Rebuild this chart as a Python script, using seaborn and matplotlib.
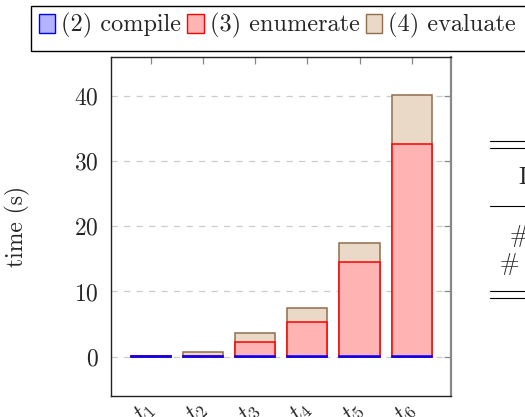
import matplotlib
matplotlib.use("Agg")
import matplotlib.pyplot as plt
from matplotlib.patches import Patch, Rectangle
from matplotlib.lines import Line2D
import seaborn as sns
import pandas as pd

# values (seconds)
tasks = ["$t_1$", "$t_2$", "$t_3$", "$t_4$", "$t_5$", "$t_6$"]
compile_t = [0.05, 0.05, 0.05, 0.05, 0.05, 0.05]
enumerate_t = [0.0, 0.1, 2.2, 5.25, 14.4, 32.5]
evaluate_t = [0.0, 0.6, 1.45, 2.15, 2.95, 7.5]
legend_labels = ["(2) compile", "(3) enumerate", "(4) evaluate"]

sns.set_style("white")
plt.rcParams["font.family"] = ["cmr10", "DejaVu Serif"]
plt.rcParams["mathtext.fontset"] = "cm"
plt.rcParams["axes.formatter.use_mathtext"] = True
plt.rcParams["axes.unicode_minus"] = False

df = pd.DataFrame({"task": tasks, "compile": compile_t,
                   "enumerate": enumerate_t, "evaluate": evaluate_t})
df["s2"] = df["compile"]
df["s3"] = df["compile"] + df["enumerate"]
df["s4"] = df["s3"] + df["evaluate"]

styles = [("s4", "#ead9c6", "#8f6d4c"),
          ("s3", "#ffb3b3", "#ff0000"),
          ("s2", "#b3b3ff", "#0000ff")]

fig = plt.figure(figsize=(5.25, 4.17), dpi=100)
ax = fig.add_axes([111 / 525, 1 - 396 / 417, 340 / 525, 339 / 417])

for col, fc, ec in styles:
    sns.barplot(data=df, x="task", y=col, color=fc, edgecolor=ec,
                linewidth=1.1, width=0.77, saturation=1, ax=ax, zorder=3)

ax.set_xlim(-0.76, 5.75)
ax.set_ylim(-6, 45.9)
ax.set_yticks([0, 10, 20, 30, 40])
ax.yaxis.grid(True, color="#cccccc", linestyle=(0, (5, 5)), linewidth=0.9, zorder=0)
ax.xaxis.grid(False)
ax.set_xlabel("")
ax.set_ylabel("time (s)", fontsize=17)
ax.yaxis.set_label_coords(-0.238, 0.5)

ax.tick_params(axis="both", which="major", direction="in", length=5, width=0.9,
               color="#888888", top=True, right=True, labelsize=17)
ax.tick_params(axis="y", pad=9)
for lab in ax.get_xticklabels():
    lab.set_rotation(45)
    lab.set_ha("right")
    lab.set_rotation_mode("anchor")
    lab.set_va("center")
ax.tick_params(axis="x", pad=7)

for side in ["left", "bottom", "top"]:
    ax.spines[side].set_color("#222222")
    ax.spines[side].set_linewidth(1.0)
ax.spines["right"].set_color("#888888")
ax.spines["right"].set_linewidth(1.6)

handles = [Patch(facecolor=fc, edgecolor=ec, linewidth=1.0)
           for _, fc, ec in reversed(styles)]
leg = fig.legend(handles, legend_labels, loc="upper left", ncol=3,
                 bbox_to_anchor=(31 / 525, 1 - 5.5 / 417), borderaxespad=0,
                 fontsize=17.5, frameon=False,
                 handlelength=0.67, handleheight=0.8, handletextpad=0.25,
                 columnspacing=0.25, borderpad=0.32)

# legend box runs past the right edge of the picture
fig.add_artist(Rectangle((31 / 525, 1 - 51 / 417), 500 / 525, 45.5 / 417,
                         facecolor="none", edgecolor="black", linewidth=1.0,
                         transform=fig.transFigure, zorder=10))

# partially visible table on the right edge
def hrule(y):
    fig.add_artist(Line2D([490 / 525, 1.0], [1 - y / 417, 1 - y / 417],
                          color="black", linewidth=0.8))

for y in [141, 148, 206, 291, 298]:
    hrule(y)
fig.text(518 / 525, 1 - 178 / 417, "I", fontsize=17, ha="left", va="center")
fig.text(510 / 525, 1 - 236 / 417, "#", fontsize=17, ha="left", va="center")
fig.text(500 / 525, 1 - 264 / 417, "#", fontsize=17, ha="left", va="center")

fig.savefig("out.png", dpi=100)
